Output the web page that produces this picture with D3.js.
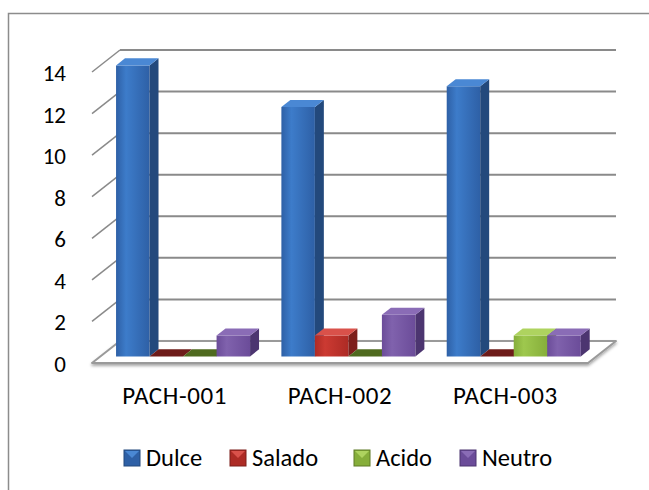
<!DOCTYPE html>
<html>
<head>
<meta charset="utf-8">
<script src="https://cdn.jsdelivr.net/npm/d3@7"></script>
<style>
  html, body { margin: 0; padding: 0; background: #fff; }
  svg { display: block; }
  text { font-family: Calibri, Carlito, Lato, sans-serif; fill: #000; }
</style>
</head>
<body>
<svg id="chart" width="649" height="490"></svg>
<script>
// Taste counts per sample
const categories = ["PACH-001", "PACH-002", "PACH-003"];
const seriesNames = ["Dulce", "Salado", "Acido", "Neutro"];
const dulce  = [14, 12, 13];
const salado = [0, 1, 0];
const acido  = [0, 0, 1];
const neutro = [1, 2, 1];
const yTicks = [0, 2, 4, 6, 8, 10, 12, 14];

const seriesValues = [dulce, salado, acido, neutro];

// Face colours for each series: front gradient (light, dark), side, top, flat (zero) top
const palette = {
  Dulce:  { f1: "#3d7cca", f2: "#2e60a6", side: "#23497c", top: "#4a88d4", flat: "#1f4372" },
  Salado: { f1: "#cc3a32", f2: "#ad2b25", side: "#7d1f1b", top: "#d9514a", flat: "#6e1c1a" },
  Acido:  { f1: "#9ec84e", f2: "#86ae3a", side: "#5e7a26", top: "#aed35f", flat: "#4f6a1f" },
  Neutro: { f1: "#8062ad", f2: "#6b4c99", side: "#4c3570", top: "#8a6cb6", flat: "#44305f" }
};

const svg = d3.select("#chart");
const defs = svg.append("defs");

// Oblique projection: depth runs up and to the right
const DX = 28, DY = -22;
const ZF = 0.3, ZB = 0.62;   // front and back depth of the bars

const x0 = d3.scaleBand().domain(categories).range([92, 588]).paddingInner(0).paddingOuter(0);
const x1 = d3.scaleBand().domain(seriesNames).range([0, x0.bandwidth()])
  .paddingInner(0).paddingOuter(0.467);
const y = d3.scaleLinear().domain([0, 14]).range([363, 72]);

const proj = (x, v, z) => [x + z * DX, y(v) + z * DY];
const poly = pts => pts.map(p => p.join(",")).join(" ");

// Gradients
seriesNames.forEach(s => {
  const g = defs.append("linearGradient").attr("id", "grad-" + s)
    .attr("x1", 0).attr("x2", 1).attr("y1", 0).attr("y2", 0);
  g.append("stop").attr("offset", "0%").attr("stop-color", palette[s].f2);
  g.append("stop").attr("offset", "30%").attr("stop-color", palette[s].f1);
  g.append("stop").attr("offset", "100%").attr("stop-color", palette[s].f2);
});
const shadow = defs.append("filter").attr("id", "floorShadow")
  .attr("x", "-5%").attr("y", "-20%").attr("width", "110%").attr("height", "160%");
shadow.append("feDropShadow").attr("dx", 0).attr("dy", 2).attr("stdDeviation", 1.5)
  .attr("flood-color", "#000").attr("flood-opacity", 0.35);

// Outer chart border
svg.append("rect").attr("x", 8.5).attr("y", 13.5).attr("width", 700).attr("height", 520)
  .attr("fill", "none").attr("stroke", "#8c8c8c").attr("stroke-width", 1.5);

// Back wall gridlines
const [xl, xr] = x0.range();
svg.append("g").selectAll("line").data(yTicks.filter(t => t > 0)).join("line")
  .attr("x1", d => proj(xl, d, 1)[0]).attr("x2", d => proj(xr, d, 1)[0])
  .attr("y1", d => proj(xl, d, 1)[1]).attr("y2", d => proj(xr, d, 1)[1])
  .attr("stroke", "#8a8a8a").attr("stroke-width", 2);

// Depth tick lines on the left side
svg.append("g").selectAll("line").data(yTicks.filter(t => t > 0)).join("line")
  .attr("x1", d => proj(xl, d, 0)[0]).attr("x2", d => proj(xl, d, 1)[0])
  .attr("y1", d => proj(xl, d, 0)[1]).attr("y2", d => proj(xl, d, 1)[1])
  .attr("stroke", "#8a8a8a").attr("stroke-width", 1.5);

// Floor
svg.append("polygon")
  .attr("points", poly([proj(xl, 0, 0), proj(xr, 0, 0), proj(xr, 0, 1), proj(xl, 0, 1)]))
  .attr("fill", "#fff").attr("stroke", "#9a9a9a").attr("stroke-width", 2)
  .attr("stroke-linejoin", "round").attr("filter", "url(#floorShadow)");

// Y axis labels
svg.append("g").selectAll("text").data(yTicks).join("text")
  .attr("x", 66).attr("y", d => y(d) + 1)
  .attr("text-anchor", "end").attr("dominant-baseline", "central")
  .attr("font-size", 23).text(d => d);

// Bars
const bars = [];
categories.forEach((c, ci) => {
  seriesNames.forEach((s, si) => {
    bars.push({ c, s, v: seriesValues[si][ci] });
  });
});
const barG = svg.append("g").selectAll("g").data(bars).join("g");
barG.each(function (d) {
  const g = d3.select(this);
  const a = x0(d.c) + x1(d.s);
  const b = a + x1.bandwidth();
  const col = palette[d.s];
  if (d.v > 0) {
    g.append("polygon").attr("fill", `url(#grad-${d.s})`)
      .attr("points", poly([proj(a, 0, ZF), proj(b, 0, ZF), proj(b, d.v, ZF), proj(a, d.v, ZF)]));
    g.append("polygon").attr("fill", col.side)
      .attr("points", poly([proj(b, 0, ZF), proj(b, 0, ZB), proj(b, d.v, ZB), proj(b, d.v, ZF)]));
    g.append("polygon").attr("fill", col.top)
      .attr("points", poly([proj(a, d.v, ZF), proj(b, d.v, ZF), proj(b, d.v, ZB), proj(a, d.v, ZB)]));
  } else {
    g.append("polygon").attr("fill", col.flat)
      .attr("points", poly([proj(a, 0, ZF), proj(b, 0, ZF), proj(b, 0, ZB), proj(a, 0, ZB)]));
  }
});

// Category labels
svg.append("g").selectAll("text").data(categories).join("text")
  .attr("x", d => x0(d) + x0.bandwidth() / 2).attr("y", 404)
  .attr("text-anchor", "middle").attr("font-size", 25).attr("letter-spacing", 0.6).text(d => d);

// Legend
const legendX = [124, 230, 354, 460];
const leg = svg.append("g").selectAll("g").data(seriesNames).join("g")
  .attr("transform", (d, i) => `translate(${legendX[i]},450)`);
leg.append("rect").attr("width", 16).attr("height", 16)
  .attr("fill", d => palette[d].f2).attr("stroke", d => palette[d].side).attr("stroke-width", 1);
leg.append("polygon").attr("points", "1,1 15,1 8,8").attr("fill", d => palette[d].top);
leg.append("text").attr("x", 22).attr("y", 16).attr("font-size", 24.5).text(d => d);
</script>
</body>
</html>
